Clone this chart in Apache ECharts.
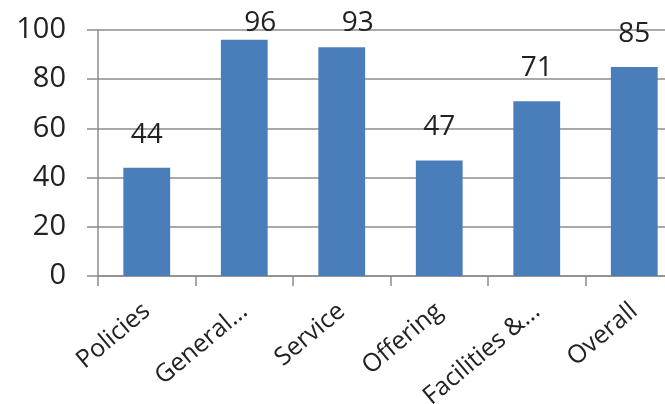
<!DOCTYPE html>
<html>
<head>
<meta charset="utf-8">
<script src="https://cdn.jsdelivr.net/npm/echarts@6/dist/echarts.min.js"></script>
<style>
  html, body { margin: 0; padding: 0; background: #fff; }
  #main { width: 665px; height: 404px; }
</style>
</head>
<body>
<div id="main"></div>
<script>
var categories = ['Policies', 'General...', 'Service', 'Offering', 'Facilities &...', 'Overall'];
var scores = [44, 96, 93, 47, 71, 85];
var yTicks = [0, 20, 40, 60, 80, 100];

var chart = echarts.init(document.getElementById('main'));

var option = {
    animation: false,
    grid: { left: 98, top: 30, width: 585, height: 246, containLabel: false, outerBoundsMode: 'none' },
    xAxis: {
        type: 'category',
        data: categories,
        axisLine: { show: true, lineStyle: { color: '#8c8c8c', width: 1.5 } },
        axisTick: { show: true, length: 10, lineStyle: { color: '#8c8c8c', width: 1.5 } },
        axisLabel: {
            rotate: 40,
            margin: 32,
            fontFamily: 'Open Sans',
            fontSize: 25,
            color: '#222'
        }
    },
    yAxis: {
        type: 'value',
        min: yTicks[0],
        max: yTicks[yTicks.length - 1],
        interval: 20,
        axisLine: { show: true, lineStyle: { color: '#8c8c8c', width: 1.5 } },
        axisTick: { show: true, length: 11, lineStyle: { color: '#8c8c8c', width: 1.5 } },
        splitLine: { show: true, lineStyle: { color: '#8c8c8c', width: 1.5 } },
        axisLabel: {
            margin: 32,
            fontFamily: 'Open Sans',
            fontSize: 29,
            color: '#222'
        }
    },
    series: [{
        type: 'bar',
        data: scores,
        barWidth: '48%',
        itemStyle: { color: '#4a7ebb' },
        label: {
            show: true,
            position: 'top',
            distance: 19,
            fontFamily: 'Open Sans',
            fontSize: 28,
            color: '#222'
        },
        // 顶部的标签往下挪，别超出画布
        labelLayout: function (p) {
            if (p.labelRect.y < 9) {
                return { y: 9, verticalAlign: 'top' };
            }
            return {};
        }
    }]
};

chart.setOption(option);
</script>
</body>
</html>
